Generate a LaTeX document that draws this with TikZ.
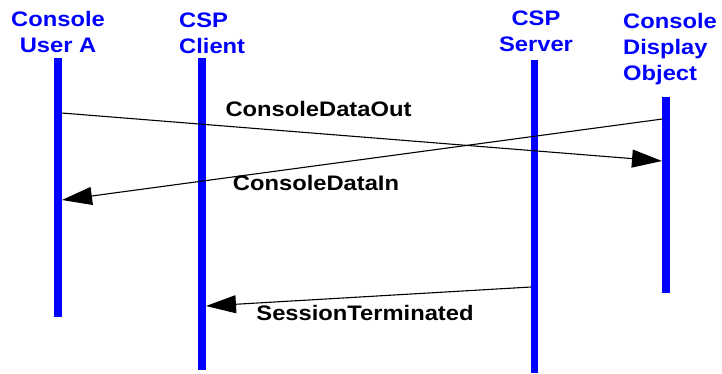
\documentclass[tikz,border=0pt]{standalone}
\usepackage{fontspec}
\setmainfont{Liberation Sans}[FakeStretch=1.13]
\usepackage{xcolor}
\usetikzlibrary{arrows.meta}
\definecolor{lineblue}{RGB}{0,0,255}

\tikzset{
  head/.style={inner sep=0pt, text=lineblue, font=\fontsize{21}{26}\selectfont\bfseries},
  msg/.style={inner sep=0pt, font=\fontsize{21}{26}\selectfont\bfseries},
  lifeline/.style={draw=lineblue, line width=7.5pt},
  call/.style={line width=1.1pt, -{Triangle[length=30pt,width=18pt]}}
}

\begin{document}
\begin{tikzpicture}[x=1pt, y=-1pt]
  \useasboundingbox (0,0) rectangle (722,374);
  % Nodes
  \node[head,align=center,anchor=north] (UserHead) at (58,11) {Console\\User A};
  \node[head,align=left,anchor=north west] (ClientHead) at (179,13) {CSP\\Client};
  \node[head,align=center,anchor=north] (ServerHead) at (536,11) {CSP\\Server};
  \node[head,align=left,anchor=north west] (DisplayHead) at (623,13) {Console\\Display\\Object};
  % Lifelines
  \coordinate (UserTop) at (58,58);       \coordinate (UserBot) at (58,317);
  \coordinate (ClientTop) at (202,58);    \coordinate (ClientBot) at (202,370);
  \coordinate (ServerTop) at (534.5,60);  \coordinate (ServerBot) at (534.5,373);
  \coordinate (DisplayTop) at (666,97);   \coordinate (DisplayBot) at (666,293);
  \draw[lifeline] (UserTop) -- (UserBot);
  \draw[lifeline] (ClientTop) -- (ClientBot);
  \draw[lifeline] (ServerTop) -- (ServerBot);
  \draw[lifeline] (DisplayTop) -- (DisplayBot);
  % Edges
  \coordinate (OutFrom) at (61.5,113);   \coordinate (OutTo) at (662,161);
  \coordinate (InFrom) at (662.5,119);   \coordinate (InTo) at (62,200);
  \coordinate (EndFrom) at (531,287);    \coordinate (EndTo) at (206,306);
  \draw[call] (OutFrom) -- (OutTo);
  \draw[call] (InFrom) -- (InTo);
  \draw[call] (EndFrom) -- (EndTo);
  % Labels
  \node[msg,anchor=base] (OutLabel) at (318.5,117) {ConsoleDataOut};
  \node[msg,anchor=base] (InLabel) at (316,190) {ConsoleDataIn};
  \node[msg,anchor=base] (EndLabel) at (365,320) {SessionTerminated};
\end{tikzpicture}
\end{document}
